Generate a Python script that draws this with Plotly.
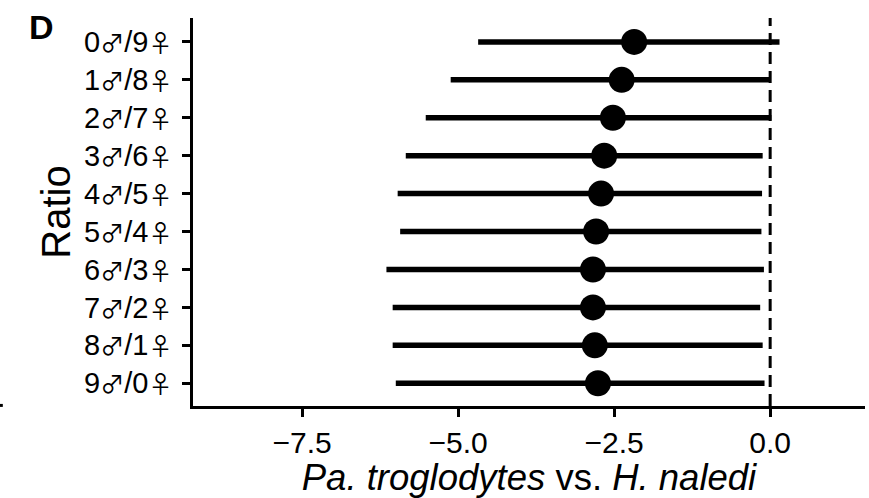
import plotly.graph_objects as go

# Data
males = [0, 1, 2, 3, 4, 5, 6, 7, 8, 9]
females = [9, 8, 7, 6, 5, 4, 3, 2, 1, 0]
estimate = [-2.18, -2.38, -2.52, -2.66, -2.71, -2.79, -2.84, -2.84, -2.81, -2.76]
lower = [-4.68, -5.12, -5.52, -5.84, -5.97, -5.93, -6.15, -6.05, -6.05, -6.00]
upper = [0.15, 0.01, 0.02, -0.12, -0.13, -0.14, -0.10, -0.16, -0.12, -0.09]
x_ticks = [-7.5, -5.0, -2.5, 0.0]
x_ticktext = ["−7.5", "−5.0", "−2.5", "0.0"]

SYM = "<span style=\"font-family:Noto Sans CJK JP;font-size:24px\">{}</span>"
ratios = [f"{m}{SYM.format('♂')}/{f}{SYM.format('♀')}" for m, f in zip(males, females)]

ypos = list(range(len(ratios)))
FONT = "Liberation Sans, Arial, sans-serif"

fig = go.Figure()
fig.add_trace(go.Scatter(
    x=estimate, y=ypos, mode="markers",
    marker=dict(size=26, color="black"),
    error_x=dict(type="data", symmetric=False,
                 array=[u - e for u, e in zip(upper, estimate)],
                 arrayminus=[e - l for e, l in zip(estimate, lower)],
                 thickness=5.5, width=0, color="black"),
    showlegend=False, hoverinfo="skip",
))

fig.add_shape(type="line", xref="x", yref="paper", x0=0, x1=0, y0=0, y1=1,
              line=dict(color="black", width=3, dash="12px,7px"), layer="below")

# tiny stray mark at the far left (edge of a neighbouring panel)
fig.add_shape(type="line", xref="paper", yref="paper", x0=-0.2875, x1=-0.283,
              y0=0.0015, y1=0.0015, line=dict(color="black", width=3))

fig.add_annotation(text="<b>D</b>", xref="paper", yref="paper",
                   x=-0.247, y=0.978, xanchor="left", yanchor="middle",
                   showarrow=False, font=dict(family=FONT, size=34, color="black"))

fig.update_layout(
    width=869, height=498,
    margin=dict(l=193, r=4, t=18, b=92),
    paper_bgcolor="white", plot_bgcolor="white",
    font=dict(family=FONT, color="black"),
    xaxis=dict(range=[-9.25, 1.52], tickvals=x_ticks, ticktext=x_ticktext,
               showgrid=False, zeroline=False, showline=True, linecolor="black",
               linewidth=2.5, ticks="outside", ticklen=8, tickwidth=2.5,
               tickcolor="black", tickfont=dict(size=30, color="black"),
               title=dict(text="<i>Pa. troglodytes</i> vs. <i>H. naledi</i>",
                          font=dict(size=36.5, color="black"), standoff=0)),
    yaxis=dict(range=[9.6, -0.63], tickvals=ypos, ticktext=ratios,
               showgrid=False, zeroline=False, showline=True, linecolor="black",
               linewidth=2.5, ticks="outside", ticklen=8, tickwidth=2.5,
               tickcolor="black", tickfont=dict(size=29, color="black"),
               ticklabelstandoff=4,
               title=dict(text="Ratio", font=dict(size=40, color="black"), standoff=2)),
)

fig.write_html("out.html")
